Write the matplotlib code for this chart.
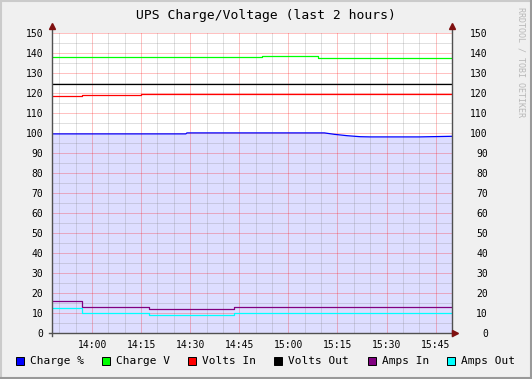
"""UPS charge / voltage graph in the rrdtool look."""

import matplotlib

matplotlib.use("Agg")

import matplotlib.dates as mdates
import matplotlib.pyplot as plt
import pandas as pd
from matplotlib.patches import Rectangle


DAY = "2024-01-01 "
VIEW_START = "13:47:40"
VIEW_END = "15:49:55"

# Charge % (area + line)
charge_pct_times = ["13:47:40", "14:28:40", "14:29:00", "15:11:00", "15:14:00",
                    "15:18:00", "15:22:00", "15:25:00", "15:40:00", "15:49:55"]
charge_pct = [99.5, 99.5, 100.0, 100.0, 99.3, 98.6, 98.1, 98.0, 98.0, 98.3]

# step series: value holds until the next change time
charge_v_times = ["13:47:40", "14:52:00", "15:09:00", "15:49:55"]
charge_v = [137.8, 138.2, 137.4, 137.4]

volts_in_times = ["13:47:40", "13:57:00", "14:15:00", "15:49:55"]
volts_in = [118.2, 118.9, 119.4, 119.4]

volts_out_times = ["13:47:40", "15:49:55"]
volts_out = [124.6, 124.6]

amps_times = ["13:47:40", "13:57:00", "14:17:30", "14:43:30", "15:49:55"]
amps_in = [16.0, 13.3, 12.0, 13.1, 13.1]
amps_out = [12.5, 10.0, 9.2, 10.0, 10.0]

legend_labels = ["Charge %", "Charge V", "Volts In", "Volts Out", "Amps In", "Amps Out"]
legend_colors = ["#0000FF", "#00FF00", "#FF0000", "#000000", "#800080", "#00FFFF"]
legend_x = [16, 102, 188, 274, 368, 447]

y_ticks = list(range(0, 151, 10))

W, H = 532, 379
AXIS_COLOR = "#505050"
ARROW_COLOR = "#7F1010"


def to_time(values):
    return pd.to_datetime([DAY + v for v in values])


def main() -> None:
    plt.rcParams["font.family"] = "DejaVu Sans Mono"

    fig = plt.figure(figsize=(W / 100, H / 100), dpi=100, facecolor="#F0F0F0")
    ax = fig.add_axes([51.7 / W, 45.7 / H, 400 / W, 300.6 / H])
    ax.set_facecolor("white")

    t = to_time(charge_pct_times)
    ax.fill_between(t, charge_pct, 0, color="#DDDDFF", lw=0, zorder=1)
    ax.plot(t, charge_pct, color="#0000FF", lw=0.9, zorder=2)

    step_series = [
        (charge_v_times, charge_v, "#00FF00"),
        (volts_in_times, volts_in, "#FF0000"),
        (volts_out_times, volts_out, "#000000"),
        (amps_times, amps_in, "#800080"),
        (amps_times, amps_out, "#00FFFF"),
    ]
    for times, values, color in step_series:
        ax.plot(to_time(times), values, color=color, lw=0.9,
                drawstyle="steps-post", zorder=2)

    ax.set_xlim(to_time([VIEW_START])[0], to_time([VIEW_END])[0])
    ax.set_ylim(0, 150)

    ax.xaxis.set_major_locator(mdates.MinuteLocator(byminute=[0, 15, 30, 45]))
    ax.xaxis.set_minor_locator(mdates.MinuteLocator(byminute=range(0, 60, 5)))
    ax.xaxis.set_major_formatter(mdates.DateFormatter("%H:%M"))
    ax.set_yticks(y_ticks)
    ax.set_yticks(range(5, 150, 10), minor=True)

    ax.grid(which="minor", color="#808080", alpha=0.25, lw=0.7)
    ax.grid(which="major", color="#FF0000", alpha=0.25, lw=0.7)
    ax.tick_params(which="both", length=0)
    ax.tick_params(axis="x", pad=5, labelsize=7)
    ax.tick_params(axis="y", pad=6, labelsize=7)
    for spine in ax.spines.values():
        spine.set_visible(False)

    # right-hand value labels
    ax2 = ax.twinx()
    ax2.set_ylim(0, 150)
    ax2.set_yticks(y_ticks)
    ax2.tick_params(length=0, pad=26, labelsize=7)
    for label in ax2.get_yticklabels():
        label.set_horizontalalignment("right")
    for spine in ax2.spines.values():
        spine.set_visible(False)

    # axes with rrdtool arrows
    line_kw = dict(transform=ax.transAxes, clip_on=False, color=AXIS_COLOR, lw=1, zorder=5)
    arrow_kw = dict(transform=ax.transAxes, clip_on=False, color=ARROW_COLOR,
                    markersize=4, linestyle="none", zorder=6)
    ax.plot([-0.008, 1.01], [0, 0], **line_kw)
    ax.plot([0, 0], [-0.01, 1.02], **line_kw)
    ax.plot([1, 1], [-0.01, 1.02], **line_kw)
    ax.plot([0], [1.022], marker="^", **arrow_kw)
    ax.plot([1], [1.022], marker="^", **arrow_kw)
    ax.plot([1.009], [0], marker=">", **arrow_kw)

    fig.text(0.5, 1 - 16 / H, "UPS Charge/Voltage (last 2 hours)",
             ha="center", va="center", fontsize=9.4)

    fig.text(521 / W, 1 - 7 / H, "RRDTOOL / TOBI OETIKER", rotation=270,
             ha="center", va="top", fontsize=6, color="#B8B8B8")

    for x, label, color in zip(legend_x, legend_labels, legend_colors):
        fig.patches.append(Rectangle((x / W, 1 - 365 / H), 8 / W, 8 / H,
                                     transform=fig.transFigure, facecolor=color,
                                     edgecolor="black", lw=0.7))
        fig.text((x + 14) / W, 1 - 361 / H, label, ha="left", va="center",
                 fontsize=8)

    # shaded frame
    fig.add_artist(plt.Line2D([0, 1], [1 - 1 / H] * 2, color="#CBCBCB", lw=1.5))
    fig.add_artist(plt.Line2D([1 / W] * 2, [0, 1], color="#CBCBCB", lw=1.5))
    fig.add_artist(plt.Line2D([0, 1], [1 / H] * 2, color="#999999", lw=1.5))
    fig.add_artist(plt.Line2D([1 - 1 / W] * 2, [0, 1], color="#999999", lw=1.5))

    fig.savefig("out.png", dpi=100, facecolor=fig.get_facecolor())
    plt.close(fig)


if __name__ == "__main__":
    main()
